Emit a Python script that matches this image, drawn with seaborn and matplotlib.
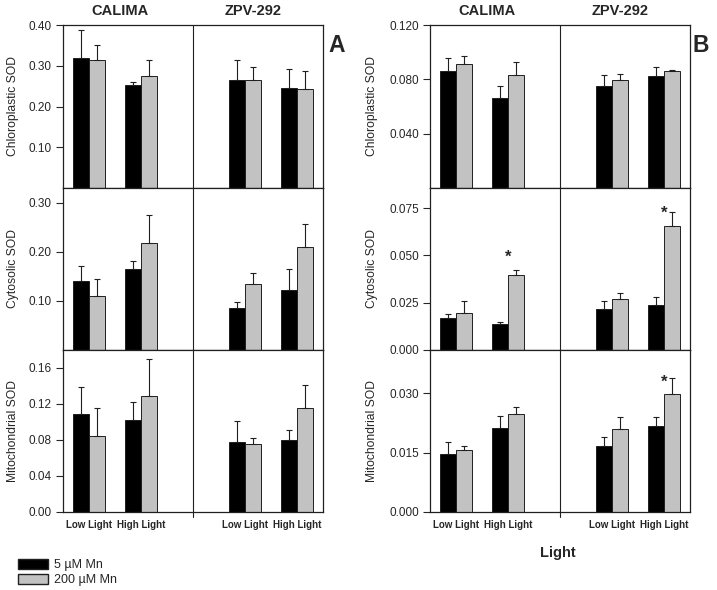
import numpy as np
import pandas as pd
import seaborn as sns
import matplotlib.pyplot as plt
from matplotlib.patches import Patch

# groups in the order the bars appear in every subplot
cultivars = ["CALIMA", "CALIMA", "CALIMA", "CALIMA", "ZPV-292", "ZPV-292", "ZPV-292", "ZPV-292"]
lights = ["Low Light", "Low Light", "High Light", "High Light"] * 2
mn = ["5 µM Mn", "200 µM Mn"] * 4

# panel A
chl_A_mean = [0.320, 0.313, 0.252, 0.274, 0.264, 0.266, 0.246, 0.244]
chl_A_err = [0.067, 0.039, 0.007, 0.039, 0.049, 0.031, 0.047, 0.043]
cyt_A_mean = [0.140, 0.111, 0.165, 0.217, 0.085, 0.135, 0.123, 0.209]
cyt_A_err = [0.031, 0.033, 0.017, 0.057, 0.012, 0.021, 0.041, 0.048]
mit_A_mean = [0.109, 0.084, 0.102, 0.129, 0.078, 0.076, 0.080, 0.116]
mit_A_err = [0.030, 0.032, 0.020, 0.041, 0.023, 0.006, 0.011, 0.025]

# panel B
chl_B_mean = [0.0858, 0.0912, 0.0659, 0.0834, 0.0751, 0.0798, 0.0827, 0.0858]
chl_B_err = [0.0102, 0.0058, 0.0095, 0.0097, 0.0083, 0.0043, 0.0063, 0.0012]
cyt_B_mean = [0.0170, 0.0195, 0.0135, 0.0398, 0.0217, 0.0268, 0.0238, 0.0655]
cyt_B_err = [0.0019, 0.0066, 0.0012, 0.0026, 0.0041, 0.0032, 0.0044, 0.0074]
mit_B_mean = [0.0148, 0.0158, 0.0213, 0.0247, 0.0166, 0.0210, 0.0217, 0.0299]
mit_B_err = [0.0028, 0.0010, 0.0029, 0.0018, 0.0024, 0.0030, 0.0023, 0.0040]

# significance stars: (panel, row, group, height)
stars = [("B", 1, "CALIMA High Light", 0.049),
         ("B", 1, "ZPV-292 High Light", 0.072),
         ("B", 2, "ZPV-292 High Light", 0.0328)]

row_labels = ["Chloroplastic SOD", "Cytosolic SOD", "Mitochondrial SOD"]
ylims_A = [0.40, 0.33, 0.18]
yticks_A = [[0.10, 0.20, 0.30, 0.40], [0.10, 0.20, 0.30], [0.00, 0.04, 0.08, 0.12, 0.16]]
ylims_B = [0.12, 0.0856, 0.041]
yticks_B = [[0.040, 0.080, 0.120], [0.000, 0.025, 0.050, 0.075], [0.000, 0.015, 0.030]]

order = ["CALIMA Low Light", "CALIMA High Light", "gap", "ZPV-292 Low Light", "ZPV-292 High Light"]
palette = {"5 µM Mn": "#000000", "200 µM Mn": "#c2c2c2"}

sns.set_style("white")
plt.rcParams['font.family'] = ['Liberation Sans', 'DejaVu Sans']

W, H = 717, 590
fig = plt.figure(figsize=(W / 100, H / 100), dpi=100)

panels = {
    "A": dict(left=63, means=[chl_A_mean, cyt_A_mean, mit_A_mean], errs=[chl_A_err, cyt_A_err, mit_A_err],
              ylims=ylims_A, yticks=yticks_A, fmt="{:.2f}", labx=-0.17),
    "B": dict(left=430, means=[chl_B_mean, cyt_B_mean, mit_B_mean], errs=[chl_B_err, cyt_B_err, mit_B_err],
              ylims=ylims_B, yticks=yticks_B, fmt="{:.3f}", labx=-0.2),
}
row_edges = [(25, 188), (188, 350), (350, 512)]
width_px = 260

for pname, p in panels.items():
    for r in range(3):
        top, bot = row_edges[r]
        ax = fig.add_axes([p["left"] / W, 1 - bot / H, width_px / W, (bot - top) / H])
        df = pd.DataFrame({
            "group": [c + " " + l for c, l in zip(cultivars, lights)],
            "Mn": mn,
            "mean": p["means"][r],
            "err": p["errs"][r],
        })
        sns.barplot(data=df, x="group", y="mean", hue="Mn", order=order,
                    hue_order=["5 µM Mn", "200 µM Mn"], palette=palette,
                    width=0.6, errorbar=None, edgecolor="#202020", linewidth=0.7,
                    legend=False, ax=ax)
        # upper error bars
        xs = [order.index(g) + (-0.15 if m == "5 µM Mn" else 0.15) for g, m in zip(df["group"], df["Mn"])]
        ax.errorbar(xs, df["mean"], yerr=[np.zeros(len(df)), df["err"]], fmt="none",
                    ecolor="#202020", elinewidth=0.8, capsize=2.5, capthick=0.8, zorder=3)

        ax.set_xlim(-0.5, 4.5)
        ax.set_ylim(0, p["ylims"][r])
        ax.set_yticks(p["yticks"][r])
        ax.set_yticklabels([p["fmt"].format(v) for v in p["yticks"][r]])
        ax.tick_params(axis="y", left=True, direction="out", length=5, width=0.8, pad=3, labelsize=8.5)
        ax.set_ylabel(row_labels[r], fontsize=8.7)
        ax.yaxis.set_label_coords(p["labx"], 0.5)
        ax.set_xlabel("")
        ax.axvline(2, color="#202020", lw=0.8, ymin=-0.03 if r == 2 else 0, clip_on=False)
        for s in ax.spines.values():
            s.set_color("#202020")
            s.set_linewidth(0.9)

        if r == 2:
            ax.set_xticks([0, 1, 3, 4])
            ax.set_xticklabels(["Low Light", "High Light", "Low Light", "High Light"],
                               fontsize=7, fontweight="bold")
            ax.tick_params(axis="x", length=0, pad=6)
        else:
            ax.set_xticks([])

        if r == 0:
            tr = ax.get_xaxis_transform()
            ax.text(0.6, 1.086, "CALIMA", transform=tr, ha="center", va="center",
                    fontsize=10.5, fontweight="bold")
            ax.text(3.15, 1.086, "ZPV-292", transform=tr, ha="center", va="center",
                    fontsize=10.5, fontweight="bold")

        for sp, sr, sg, sy in stars:
            if sp == pname and sr == r:
                ax.text(order.index(sg), sy, "*", ha="center", va="center",
                        fontsize=12, fontweight="bold")

fig.text(337 / W, 1 - 45 / H, "A", ha="center", va="center", fontsize=16.5, fontweight="bold")
fig.text(701 / W, 1 - 45 / H, "B", ha="center", va="center", fontsize=16.5, fontweight="bold")
fig.text(558 / W, 1 - 553 / H, "Light", ha="center", va="center", fontsize=10.5, fontweight="bold")

handles = [Patch(facecolor="#000000", edgecolor="#202020", label="5 µM Mn"),
           Patch(facecolor="#c2c2c2", edgecolor="#202020", label="200 µM Mn")]
fig.legend(handles=handles, loc="upper left", bbox_to_anchor=(18 / W, 1 - 559 / H),
           frameon=False, fontsize=9, handlelength=2.4, handleheight=0.8,
           handletextpad=0.5, labelspacing=0.25, borderaxespad=0, borderpad=0)

fig.savefig("out.png", dpi=100)
